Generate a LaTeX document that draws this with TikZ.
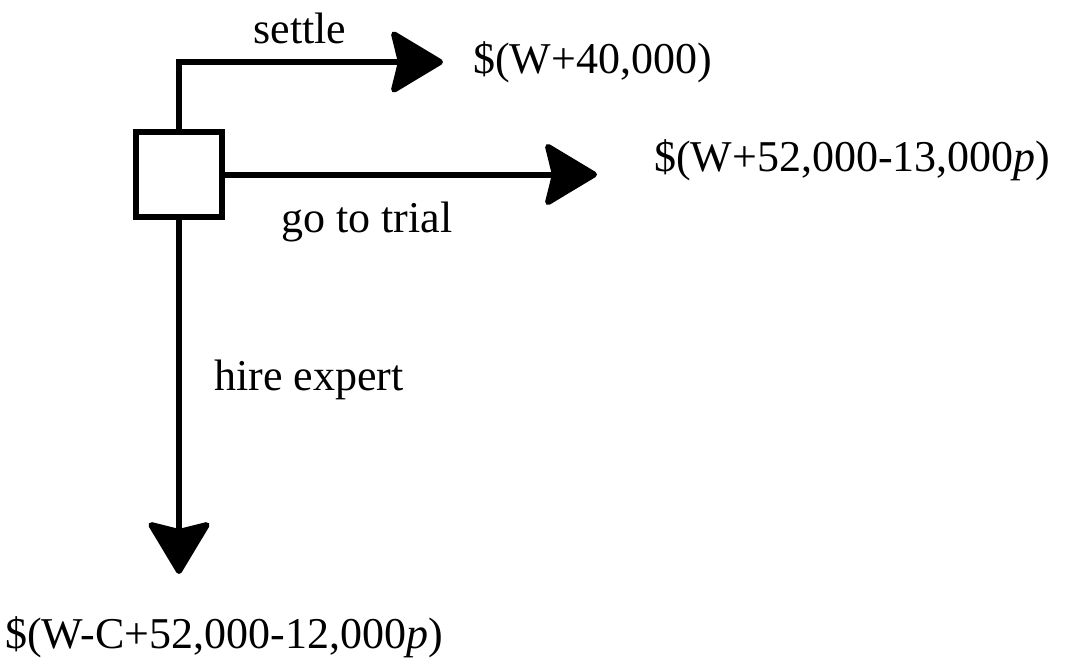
\documentclass[tikz,border=0pt]{standalone}
\usepackage{fontspec}
\setmainfont{Liberation Serif}
\usetikzlibrary{arrows.meta}
\usetikzlibrary{positioning}

\begin{document}
\begin{tikzpicture}
		[x=0.75pt, y=-0.75pt,
		font=\fontsize{33}{40}\selectfont,
		line width=4.5pt
		]
		
		% Styles: decision node, payoffs and branches
		\tikzstyle{decision node}=[rectangle,draw,minimum width=65pt,minimum height=64pt,inner sep=0];
		\tikzstyle{payoff}=[anchor=west,inner sep=0];
		\tikzstyle{branch}=[-{Stealth[length=42pt,width=50pt,inset=6pt,round]}];
		
		\useasboundingbox (0,0) rectangle (1071,662);
		
		% The decision
		\node(dec)[decision node] at (179,174.5) {};
		
		% Ends of the branches
		\coordinate(settleend) at (443,62);
		\coordinate(trialend) at (597,174.5);
		\coordinate(expertend) at (179,574);
		
		% Branches
		\draw[branch](dec.north) |- (settleend);
		\draw[branch](dec.east) -- (trialend);
		\draw[branch](dec.south) -- (expertend);
		
		% Naming the branches
		\node(settle) at (300,28) {settle};
		\node(trial) at (367,222) {go to trial};
		\node(expert) at (309,380) {hire expert};
		
		% Specifying payoffs
		\node(psettle)[payoff] at (470,62) {\$(W+40,000)};
		\node(ptrial)[payoff] at (651,160) {\$(W+52,000-13,000\textit{p})};
		\node(pexpert) at (224,637) {\$(W-C+52,000-12,000\textit{p})};
		\end{tikzpicture}
\end{document}
